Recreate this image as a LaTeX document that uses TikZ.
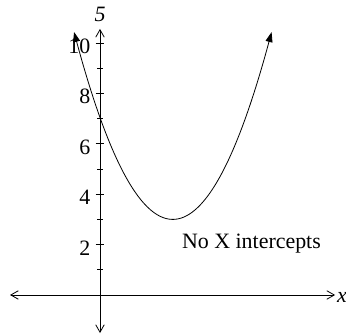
\documentclass[tikz,border=0pt]{standalone}
\usepackage{fontspec}
\setmainfont{Liberation Serif}
\usetikzlibrary{arrows.meta}
\tikzset{
  axtip/.tip={Straight Barb[length=7.5bp,width=8.5bp]},
  cvtip/.tip={Triangle[length=10bp,width=7bp]}
}
\begin{document}
\begin{tikzpicture}[x=25.2bp,y=25.2bp,
  axis/.style={line width=0.8bp,axtip-axtip},
  curveline/.style={line width=0.8bp,cvtip-cvtip},
  lbl/.style={inner sep=0pt,font=\fontsize{22}{26}\selectfont},
  tickmark/.style={line width=0.8bp}]
\useasboundingbox (-3.968,-1.627) rectangle (9.762,11.706);
\coordinate (xl) at (-3.57,0);
\coordinate (xr) at (9.33,0);
\coordinate (yb) at (0,-1.51);
\coordinate (yt) at (0,10.56);
\draw[axis] (xl) -- (xr);
\draw[axis] (yb) -- (yt);
\foreach \y in {2,4,6,8,10} \draw[tickmark] (-0.17,\y) -- (0.17,\y);
\foreach \y in {1,3,5,7,9} \draw[tickmark] (-0.1,\y) -- (0.1,\y);
\foreach \y in {2,4,6,8,10} \node[lbl,anchor=base east] (l\y) at (-0.38,\y-0.42) {\y};
\node[lbl,anchor=base] (top) at (0,10.85) {\itshape 5};
\node[lbl,anchor=base west] (xlab) at (9.40,-0.28) {\itshape x};
\node[lbl,anchor=base west] (note) at (3.25,1.85) {No X intercepts};
\draw[curveline,domain=-1.03:6.81,samples=120,smooth] plot (\x,{0.484*(\x-2.89)^2+3});
\end{tikzpicture}
\end{document}
